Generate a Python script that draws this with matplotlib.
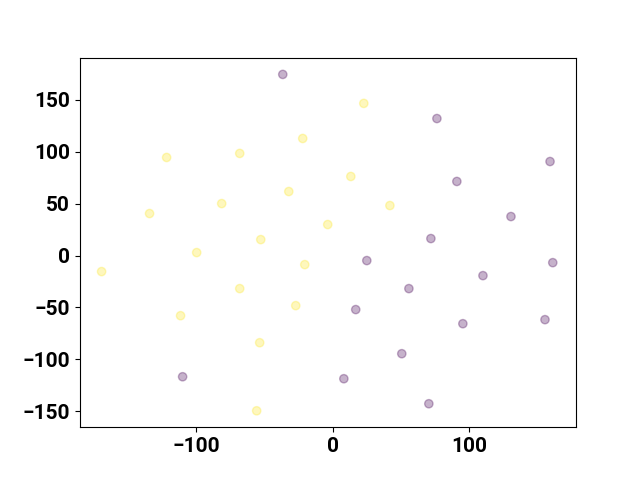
import numpy as np
import matplotlib.pyplot as plt

plt.rcParams['font.family'] = ['Roboto', 'DejaVu Sans']
plt.rcParams['font.weight'] = 'bold'
plt.rcParams['font.size'] = 15

# class 0 (purple)
x0 = [-36.6, 76.2, 159, 90.8, 130.4, 71.8, 24.9, 161, 109.9, 55.7, 16.8, 95.2, 155.3, 50.5, -109.9, 8.1, 70.3]
y0 = [174.5, 132, 90.6, 71.4, 37.6, 16.4, -4.8, -6.8, -19.3, -31.8, -52, -65.6, -61.7, -94.5, -116.7, -118.6, -142.7]
# class 1 (yellow)
x1 = [22.7, -22, -121.6, -68.1, 13.2, -32.2, -81.3, 41.8, -134.1, -3.7, -52.7, -99.6, -169.2, -20.5, -68.1, -27.1, -111.4, -53.5, -55.7]
y1 = [146.6, 112.8, 94.5, 98.4, 76.2, 61.7, 50.1, 48.2, 40.5, 29.9, 15.4, 2.9, -15.4, -8.7, -31.8, -48.2, -57.9, -83.9, -149.5]

x = np.array(x0 + x1)
y = np.array(y0 + y1)
labels = np.array([0] * len(x0) + [1] * len(x1))

fig = plt.figure(figsize=(6.4, 4.8), dpi=100)
plt.scatter(x, y, c=labels, alpha=0.3)
plt.xlim(-185, 178)
plt.ylim(-165.3, 190.7)
plt.savefig('out.png')
